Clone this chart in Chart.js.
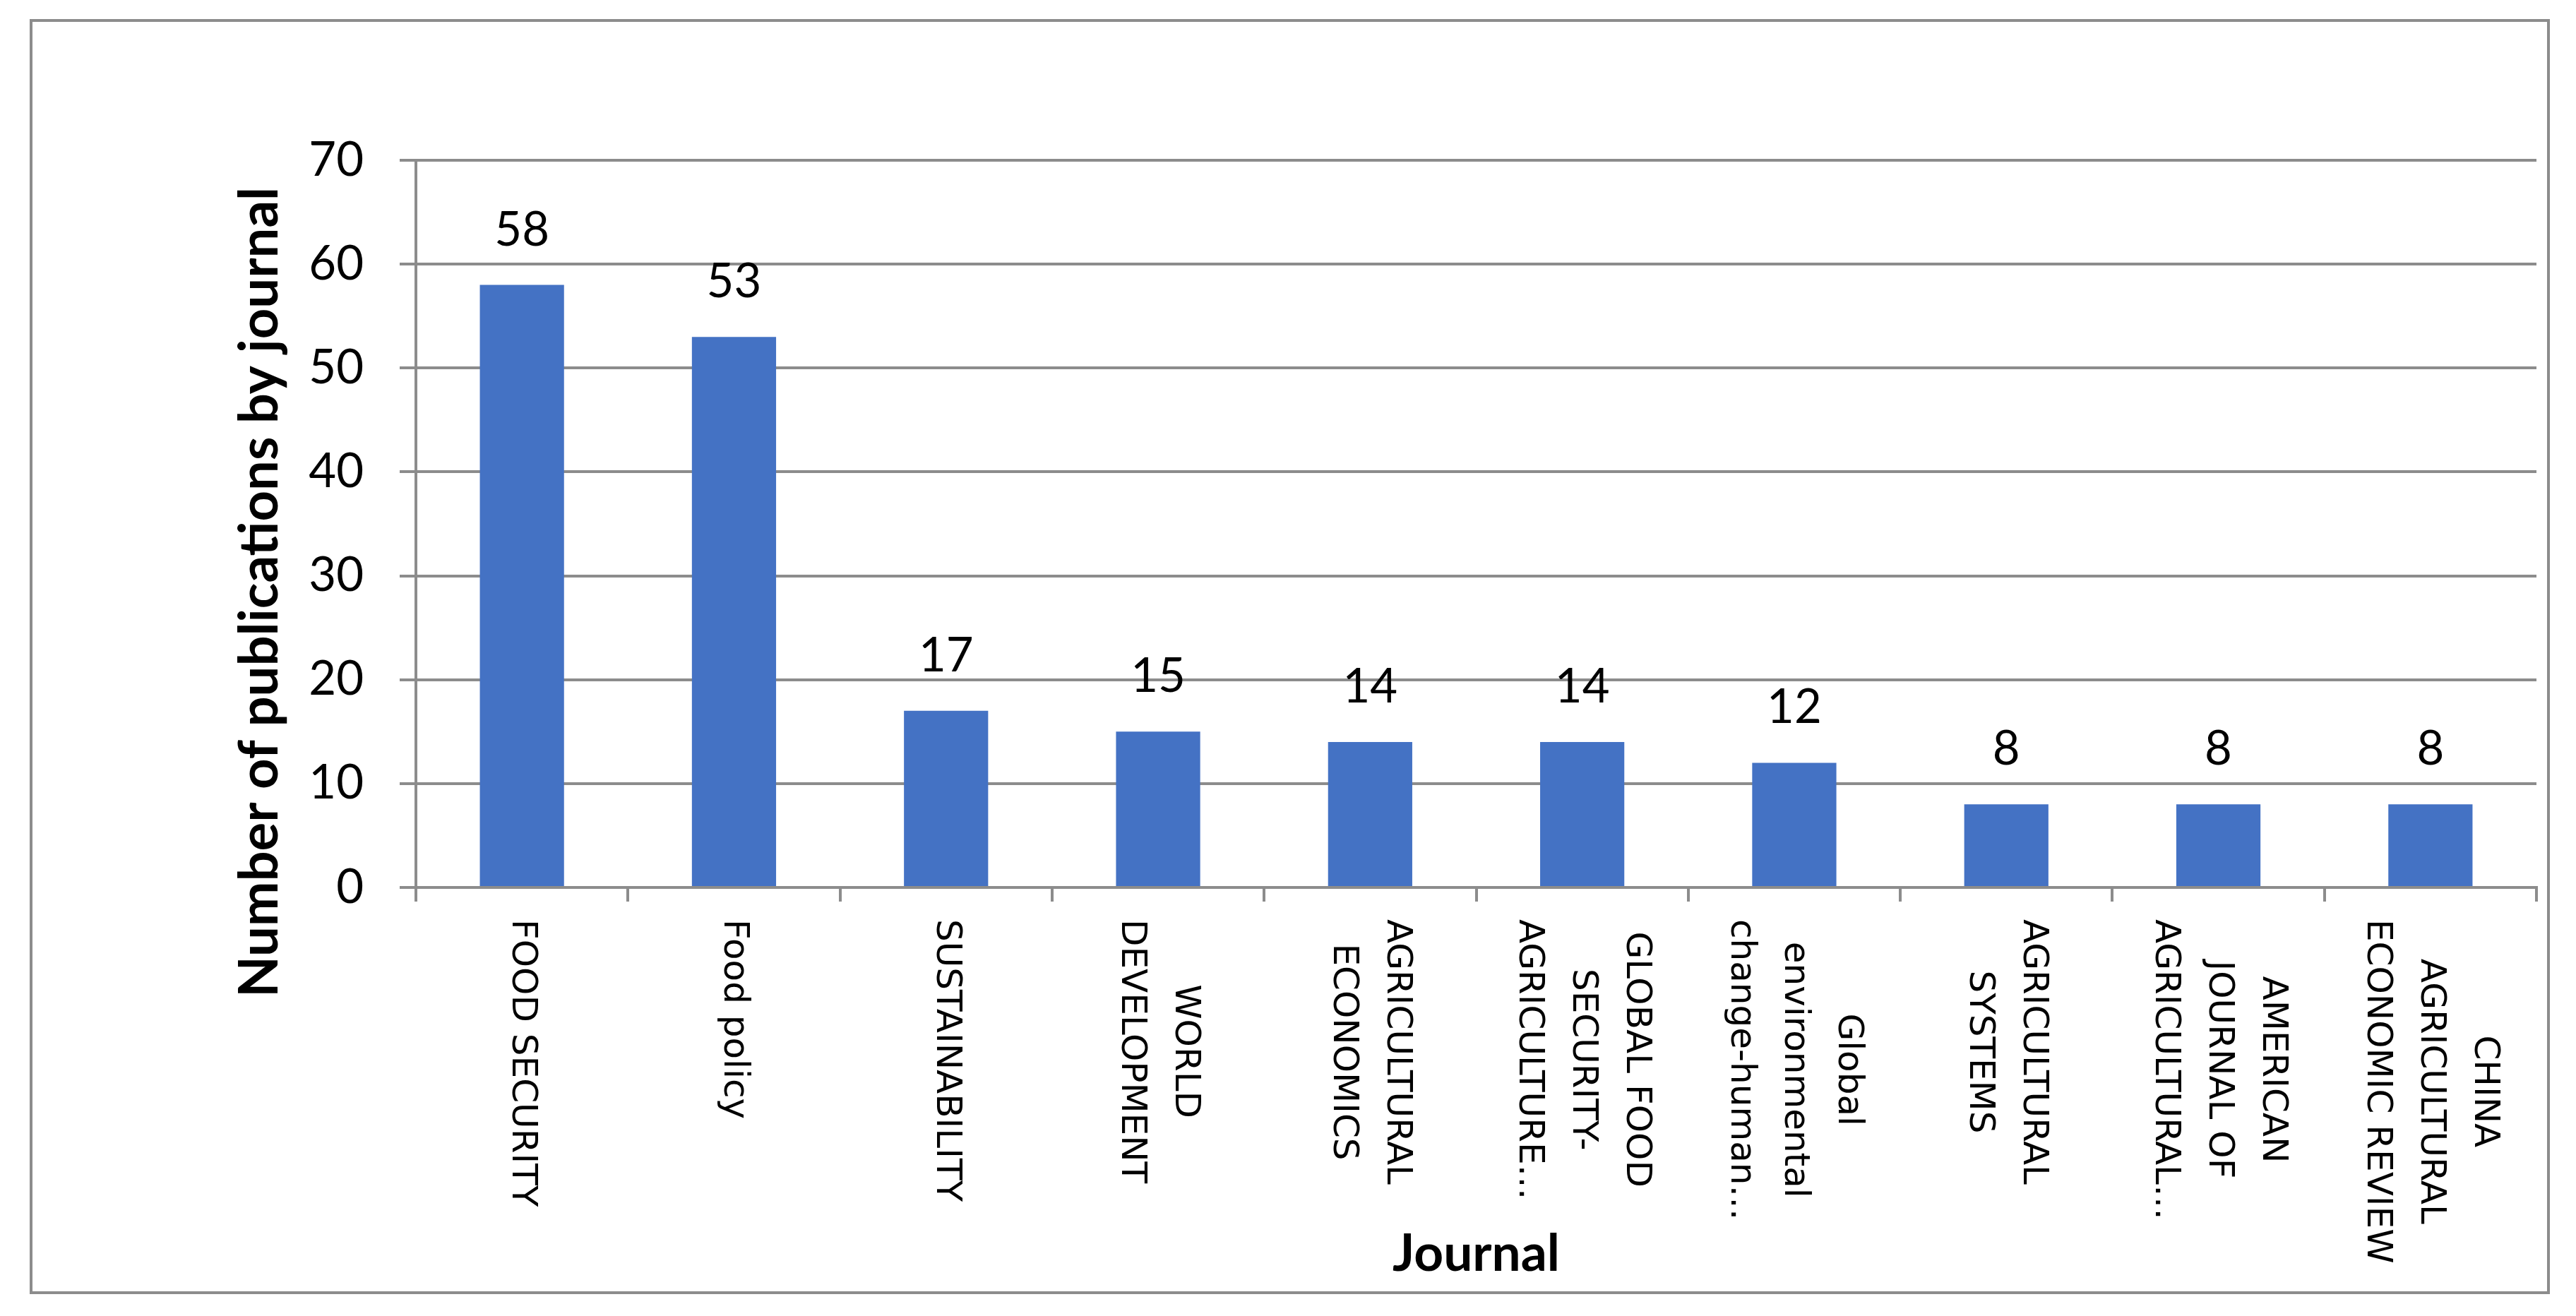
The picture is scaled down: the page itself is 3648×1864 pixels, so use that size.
<!DOCTYPE html>
<html>
<head>
<meta charset="utf-8">
<title>Number of publications by journal</title>
<script src="https://cdn.jsdelivr.net/npm/chart.js@4.4.1/dist/chart.umd.min.js"></script>
<style>
  html, body { margin: 0; padding: 0; background: #fff; }
  .wrap { position: relative; width: 3648px; height: 1864px; }
  .frame {
    position: absolute; left: 42px; top: 27px; width: 3569px; height: 1806px;
    box-sizing: border-box; border: 4px solid #8c8c8c; pointer-events: none;
  }
  canvas { position: absolute; left: 0; top: 0; }
</style>
</head>
<body>
<div class="wrap">
  <canvas id="journalChart" width="3648" height="1864"></canvas>
  <div class="frame"></div>
</div>
<script>
// data
const journals = [
  ['FOOD SECURITY'],
  ['Food policy'],
  ['SUSTAINABILITY'],
  ['WORLD', 'DEVELOPMENT'],
  ['AGRICULTURAL', 'ECONOMICS'],
  ['GLOBAL FOOD', 'SECURITY-', 'AGRICULTURE…'],
  ['Global', 'environmental', 'change-human…'],
  ['AGRICULTURAL', 'SYSTEMS'],
  ['AMERICAN', 'JOURNAL OF', 'AGRICULTURAL…'],
  ['CHINA', 'AGRICULTURAL', 'ECONOMIC REVIEW']
];
const publications = [58, 53, 17, 15, 14, 14, 12, 8, 8, 8];
const yMin = 0;
const yMax = 70;
const yStep = 10;

const xTitle = 'Journal';
const yTitle = 'Number of publications by journal';

const axisGray = '#8c8c8c';
const barBlue = '#4472c4';

// value labels, rotated category labels and axis titles
const journalLabels = {
  id: 'journalLabels',
  afterDraw(chart) {
    const ctx = chart.ctx;
    const area = chart.chartArea;
    const xScale = chart.scales.x;

    ctx.save();
    ctx.fillStyle = '#000';

    ctx.font = '67px Lato';
    ctx.textAlign = 'center';
    ctx.textBaseline = 'alphabetic';
    chart.getDatasetMeta(0).data.forEach((bar, i) => {
      ctx.fillText(String(publications[i]), bar.x, bar.y - 56);
    });

    ctx.font = '50px "DejaVu Sans"';
    ctx.textAlign = 'left';
    ctx.textBaseline = 'middle';
    journals.forEach((lines, i) => {
      const cx = xScale.getPixelForValue(i);
      const widths = lines.map((line) => ctx.measureText(line).width);
      const maxW = Math.max(...widths);
      ctx.save();
      ctx.translate(cx, area.bottom + 45);
      ctx.rotate(Math.PI / 2);
      lines.forEach((line, j) => {
        const off = (j - (lines.length - 1) / 2) * 76;
        ctx.fillText(line, (maxW - widths[j]) / 2, off);
      });
      ctx.restore();
    });

    ctx.font = 'bold 73px Lato';
    ctx.textAlign = 'center';
    ctx.textBaseline = 'alphabetic';
    ctx.fillText(xTitle, (area.left + area.right) / 2, 1800);

    ctx.save();
    ctx.font = 'bold 76px Lato';
    ctx.translate(393, 839);
    ctx.rotate(-Math.PI / 2);
    ctx.fillText(yTitle, 0, 0);
    ctx.restore();

    ctx.restore();
  }
};

new Chart(document.getElementById('journalChart'), {
  type: 'bar',
  data: {
    labels: journals,
    datasets: [{
      data: publications,
      backgroundColor: barBlue,
      borderWidth: 0,
      barPercentage: 0.397,
      categoryPercentage: 1
    }]
  },
  options: {
    responsive: false,
    devicePixelRatio: 1,
    animation: false,
    layout: {
      padding: { top: 227, right: 56, bottom: 0, left: 0 }
    },
    plugins: {
      legend: { display: false },
      tooltip: { enabled: false }
    },
    scales: {
      x: {
        afterFit: (scale) => { scale.height = 607; },
        grid: {
          drawOnChartArea: false,
          drawTicks: true,
          tickLength: 20,
          color: axisGray,
          lineWidth: 4
        },
        border: { display: true, color: axisGray, width: 4 },
        ticks: { display: false }
      },
      y: {
        min: yMin,
        max: yMax,
        afterFit: (scale) => { scale.width = 589; },
        grid: {
          color: axisGray,
          lineWidth: 4,
          tickLength: 23
        },
        border: { display: true, color: axisGray, width: 4 },
        ticks: {
          stepSize: yStep,
          padding: 51,
          color: '#000',
          font: { family: 'Lato', size: 67 }
        }
      }
    }
  },
  plugins: [journalLabels]
});
</script>
</body>
</html>
